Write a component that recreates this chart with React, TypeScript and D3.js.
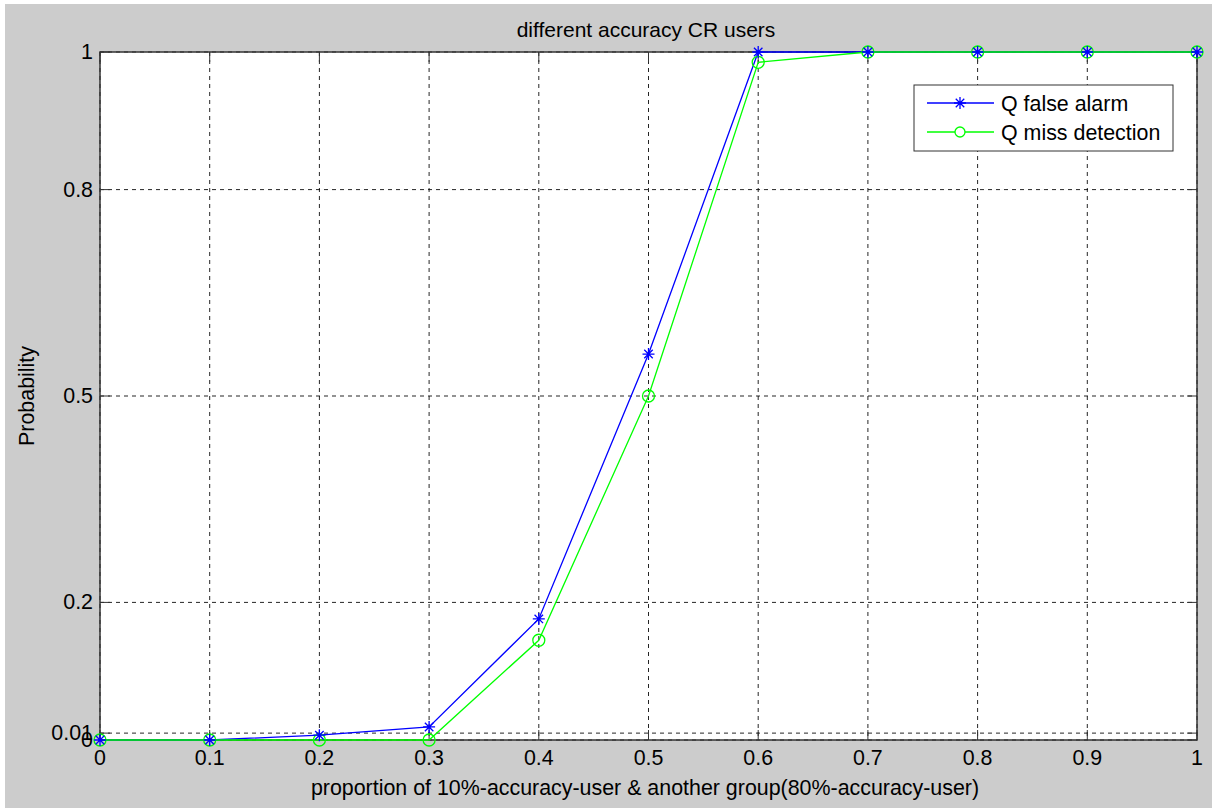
import React from "react";
import * as d3 from "d3";

const proportions = [0, 0.1, 0.2, 0.3, 0.4, 0.5, 0.6, 0.7, 0.8, 0.9, 1];
const falseAlarm = [0, 0, 0.007, 0.019, 0.176, 0.561, 1, 1, 1, 1, 1];
const missDetection = [0, 0, 0, 0, 0.145, 0.5, 0.985, 1, 1, 1, 1];
const xTicks = [0, 0.1, 0.2, 0.3, 0.4, 0.5, 0.6, 0.7, 0.8, 0.9, 1];
const yTicks = [0, 0.01, 0.2, 0.5, 0.8, 1];
const legendLabels = ["Q false alarm", "Q miss detection"];

const W = 1215;
const H = 811;
const left = 100;
const right = 1197;
const top = 52;
const bottom = 740;
const FONT = "'Liberation Sans', Arial, sans-serif";
const FS = 21.4;

function Star({ x, y, r, color }: { x: number; y: number; r: number; color: string }) {
  const d = [0, 45, 90, 135]
    .map((a) => {
      const t = (a * Math.PI) / 180;
      const dx = Math.cos(t) * r;
      const dy = Math.sin(t) * r;
      return `M${x - dx},${y - dy}L${x + dx},${y + dy}`;
    })
    .join("");
  return <path d={d} stroke={color} strokeWidth={1.3} fill="none" />;
}

export default function App() {
  const x = d3.scaleLinear().domain([0, 1]).range([left, right]);
  const y = d3.scaleLinear().domain([0, 1]).range([bottom, top]);
  const line = d3
    .line<number>()
    .x((_, i) => x(proportions[i]))
    .y((v) => y(v));

  const blue = "#0000ff";
  const green = "#00ff00";

  return (
    <svg
      width={W}
      height={H}
      style={{ position: "absolute", left: 0, top: 0, display: "block" }}
    >
      <rect x={0} y={0} width={W} height={H} fill="#ffffff" />
      <rect x={5} y={4} width={1207} height={804} fill="#cccccc" />
      <rect x={left} y={top} width={right - left} height={bottom - top} fill="#ffffff" />

      {/* grid */}
      {xTicks.map((t) => (
        <line
          key={"gx" + t}
          x1={x(t)}
          x2={x(t)}
          y1={top}
          y2={bottom}
          stroke="#000"
          strokeWidth={1}
          strokeDasharray="4,4"
          opacity={0.85}
        />
      ))}
      {yTicks.map((t) => (
        <line
          key={"gy" + t}
          x1={left}
          x2={right}
          y1={y(t)}
          y2={y(t)}
          stroke="#000"
          strokeWidth={1}
          strokeDasharray="4,4"
          opacity={0.85}
        />
      ))}

      {/* tick marks */}
      {xTicks.map((t) => (
        <g key={"tx" + t}>
          <line x1={x(t)} x2={x(t)} y1={bottom} y2={bottom - 10} stroke="#333" />
          <line x1={x(t)} x2={x(t)} y1={top} y2={top + 10} stroke="#333" />
        </g>
      ))}
      {yTicks.map((t) => (
        <g key={"ty" + t}>
          <line x1={left} x2={left + 10} y1={y(t)} y2={y(t)} stroke="#333" />
          <line x1={right} x2={right - 10} y1={y(t)} y2={y(t)} stroke="#333" />
        </g>
      ))}

      {/* axes box */}
      <rect
        x={left}
        y={top}
        width={right - left}
        height={bottom - top}
        fill="none"
        stroke="#333"
        strokeWidth={1.5}
      />

      {/* series */}
      <path d={line(falseAlarm) || ""} fill="none" stroke={blue} strokeWidth={1.3} />
      <path d={line(missDetection) || ""} fill="none" stroke={green} strokeWidth={1.3} />
      {missDetection.map((v, i) => (
        <circle
          key={"c" + i}
          cx={x(proportions[i])}
          cy={y(v)}
          r={6}
          fill="none"
          stroke={green}
          strokeWidth={1.3}
        />
      ))}
      {falseAlarm.map((v, i) => (
        <Star key={"s" + i} x={x(proportions[i])} y={y(v)} r={6} color={blue} />
      ))}

      {/* tick labels */}
      {xTicks.map((t) => (
        <text
          key={"lx" + t}
          x={x(t)}
          y={bottom + 25}
          textAnchor="middle"
          fontFamily={FONT}
          fontSize={FS}
          fill="#000"
        >
          {String(t)}
        </text>
      ))}
      {yTicks.map((t) => (
        <text
          key={"ly" + t}
          x={left - 7}
          y={y(t) + 7}
          textAnchor="end"
          fontFamily={FONT}
          fontSize={FS}
          fill="#000"
        >
          {String(t)}
        </text>
      ))}

      {/* titles */}
      <text
        x={646}
        y={37}
        textAnchor="middle"
        fontFamily={FONT}
        fontSize={21}
        fill="#000"
      >
        different accuracy CR users
      </text>
      <text
        x={645}
        y={795}
        textAnchor="middle"
        fontFamily={FONT}
        fontSize={FS}
        fill="#000"
      >
        proportion of 10%-accuracy-user &amp; another group(80%-accuracy-user)
      </text>
      <text
        transform={`translate(34,${(top + bottom) / 2}) rotate(-90)`}
        textAnchor="middle"
        fontFamily={FONT}
        fontSize={FS}
        fill="#000"
      >
        Probability
      </text>

      {/* legend */}
      <rect x={914} y={85} width={259} height={66} fill="#fff" stroke="#333" strokeWidth={1} />
      {legendLabels.map((lab, i) => {
        const ly = 103 + i * 29;
        const color = i === 0 ? blue : green;
        return (
          <g key={lab}>
            <line x1={927} x2={994} y1={ly} y2={ly} stroke={color} strokeWidth={1.3} />
            {i === 0 ? (
              <Star x={960} y={ly} r={6} color={blue} />
            ) : (
              <circle cx={960} cy={ly} r={5} fill="#fff" stroke={green} strokeWidth={1.3} />
            )}
            <text x={1001} y={ly + 8} fontFamily={FONT} fontSize={FS} fill="#000">
              {lab}
            </text>
          </g>
        );
      })}
    </svg>
  );
}
